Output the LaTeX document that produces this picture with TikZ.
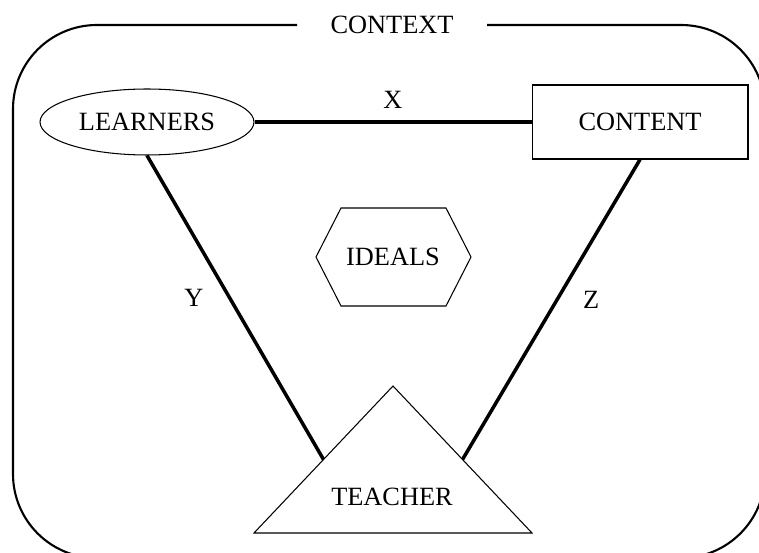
\documentclass[tikz,border=0pt]{standalone}
\usepackage{fontspec}
\setmainfont{Liberation Serif}
\usepackage{tikz}
\usetikzlibrary{shapes,positioning,calc}
\tikzset{
    frame/.style={line width=1.2pt, rounded corners=1.68cm},
    link/.style={line width=2pt, black},
    shapeline/.style={draw, line width=0.6pt},
    learnerbox/.style={shapeline, ellipse, minimum width=4.28cm, minimum height=1.32cm, inner sep=0pt},
    contentbox/.style={shapeline, rectangle, minimum width=4.32cm, minimum height=1.48cm, inner sep=0pt},
    tag/.style={inner sep=0pt}
}

\begin{document}
\begin{tikzpicture}[x=0.02cm, y=-0.02cm, font=\fontsize{15}{18}\selectfont]
                \clip (0,0) rectangle (759,553);
                % outer context frame
                \draw[frame] (297,25) -- (13,25) -- (13,558) -- (765,558) -- (765,25) -- (487,25);
                \node[tag] (context) at (392,25) {CONTEXT};
                % corners
                \node[learnerbox] (learners) at (147,122) {LEARNERS};
                \node[contentbox] (content) at (640,122) {CONTENT};
                \coordinate (apex) at (393,386);
                \coordinate (baseL) at (254,533);
                \coordinate (baseR) at (532,533);
                \draw[line width=0.6pt] (apex) -- (baseL) -- (baseR) -- cycle;
                \node[tag] (teacher) at (392,497) {TEACHER};
                \coordinate (tleft) at ($(apex)!0.5!(baseL)$);
                \coordinate (tright) at ($(apex)!0.5!(baseR)$);
                % centre
                \node[tag] (ideals) at (393,257) {IDEALS};
                \draw[line width=0.6pt] ($(ideals)+(-77,0)$) -- ($(ideals)+(-52,-49)$) -- ($(ideals)+(53,-49)$)
                    -- ($(ideals)+(78,0)$) -- ($(ideals)+(53,49)$) -- ($(ideals)+(-52,49)$) -- cycle;
                % relations
                \draw[link] (learners) -- node[tag, midway, above=0.24cm] (x) {X} (content);
                \draw[link] (learners.south) -- node[tag, midway, left=0.6cm, yshift=0.2cm] (y) {Y} (tleft);
                \draw[link] (content.south) -- node[tag, midway, right=0.6cm, yshift=0.2cm] (z) {Z} (tright);
            \end{tikzpicture}
\end{document}
